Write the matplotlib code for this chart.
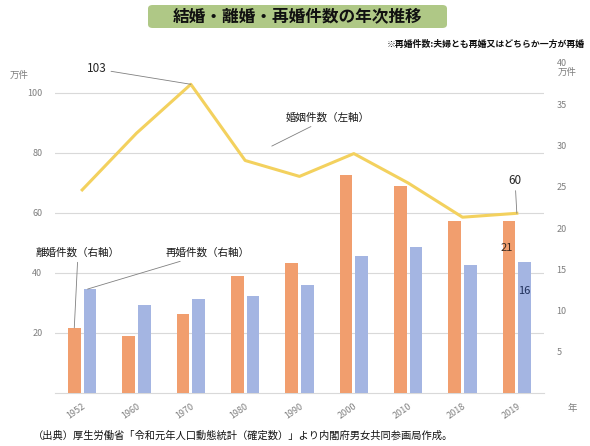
"""
    結婚・離婚・再婚件数の年次推移
"""

import matplotlib.pyplot as plt
from matplotlib.patches import FancyBboxPatch

plt.rcParams['font.family'] = ['Noto Sans CJK JP', 'DejaVu Sans']

# Data (万件)
years = ['1952', '1960', '1970', '1980', '1990', '2000', '2010', '2018', '2019']
marriages = [67.7, 86.6, 102.9, 77.5, 72.2, 79.8, 70.0, 58.6, 59.9]
divorces = [7.9, 6.9, 9.6, 14.2, 15.8, 26.4, 25.1, 20.8, 20.8]
remarriages = [12.6, 10.7, 11.4, 11.7, 13.1, 16.6, 17.7, 15.5, 15.9]

left_ticks = [20, 40, 60, 80, 100]
right_ticks = [5, 10, 15, 20, 25, 30, 35, 40]

W, H = 590, 446
fig = plt.figure(figsize=(W / 100, H / 100), dpi=100)

# base axes: left scale + gridlines
ax = fig.add_axes([55 / W, 53 / H, 489 / W, 330 / H])
ax2 = ax.twinx()   # bars (right scale)
ax3 = ax.twinx()   # line (left scale), drawn on top

x = list(range(len(years)))
ax.set_xlim(-0.5, len(years) - 0.5)
ax.set_ylim(0, 110)
ax2.set_ylim(0, 40)
ax3.set_ylim(0, 110)

gray = '#7f7f7f'
ax.set_yticks(left_ticks)
ax.yaxis.grid(True, color='#d9d9d9', lw=0.8)
ax.set_axisbelow(True)
ax.tick_params(axis='y', length=0, labelsize=6.5, labelcolor=gray, pad=9)
ax.set_xticks(x)
ax.set_xticklabels(years, rotation=35, ha='right', rotation_mode='anchor')
ax.tick_params(axis='x', length=0, labelsize=6.5, labelcolor=gray, pad=6)

ax2.set_yticks(right_ticks)
ax2.tick_params(axis='y', length=0, labelsize=6.5, labelcolor=gray, pad=9)
ax3.set_yticks([])

for a in (ax, ax2, ax3):
    for side in ('top', 'left', 'right', 'bottom'):
        a.spines[side].set_visible(False)
ax.spines['bottom'].set_visible(True)
ax.spines['bottom'].set_color('#d9d9d9')

# bars
bw = 0.23
off = 0.145
ax2.bar([i - off for i in x], divorces, bw, color='#F19E6E')
ax2.bar([i + off for i in x], remarriages, bw, color='#A4B5E2')

# line
ax3.plot(x, marriages, color='#F3D15E', lw=2.2, solid_joinstyle='round')

# annotations
lead = dict(arrowstyle='-', color='#808080', lw=0.6, shrinkA=1, shrinkB=0)
ax3.annotate(f'{max(marriages):.0f}', xy=(2, marriages[2]), xytext=(97, 377),
             textcoords='figure pixels', ha='center', va='center',
             fontsize=8.5, color='#262626', arrowprops=lead)
ax3.annotate(f'{marriages[-1]:.0f}', xy=(8, marriages[-1]), xytext=(515, 266),
             textcoords='figure pixels', ha='center', va='center',
             fontsize=8.5, color='#262626', arrowprops=lead)
ax3.annotate('婚姻件数（左軸）', xy=(3.49, 82.3), xytext=(286, 328),
             textcoords='figure pixels', ha='left', va='center',
             fontsize=7.6, color='#1a1a1a', arrowprops=lead)
ax2.annotate('離婚件数（右軸）', xy=(-off, divorces[0]), xytext=(78, 193),
             textcoords='figure pixels', ha='center', va='center',
             fontsize=7.6, color='#1a1a1a', arrowprops=lead)
ax2.annotate('再婚件数（右軸）', xy=(0.1, remarriages[0]), xytext=(166, 193),
             textcoords='figure pixels', ha='left', va='center',
             fontsize=7.6, color='#1a1a1a', arrowprops=lead)
ax2.text(8 - off - 0.05, 17.6, f'{divorces[-1]:.0f}', ha='center', va='center',
         fontsize=8, color='#3a2a20')
ax2.text(8 + off, 12.4, f'{remarriages[-1]:.0f}', ha='center', va='center',
         fontsize=8, color='#1f2f5a')

# units
fig.text(10 / W, 1 - 75 / H, '万件', fontsize=6.8, color=gray, va='center')
fig.text(558 / W, 1 - 72 / H, '万件', fontsize=6.8, color=gray, va='center')
fig.text(568 / W, 1 - 409 / H, '年', fontsize=6.8, color=gray, va='center')

# title box
box = FancyBboxPatch((148 / W, 1 - 28 / H), 299 / W, 23 / H,
                     boxstyle='round,pad=0,rounding_size=0.008',
                     transform=fig.transFigure, fc='#AFC886', ec='none')
fig.patches.append(box)
fig.text(298 / W, 1 - 16.5 / H, '結婚・離婚・再婚件数の年次推移', ha='center',
         va='center', fontsize=12, fontweight='bold', color='#111111')
fig.text(585 / W, 1 - 44 / H, '※再婚件数:夫婦とも再婚又はどちらか一方が再婚',
         ha='right', va='center', fontsize=6.4, fontweight='bold', color='#111111')

# source
fig.text(33 / W, 1 - 436 / H,
         '（出典）厚生労働省「令和元年人口動態統計（確定数）」より内閣府男女共同参画局作成。',
         ha='left', va='center', fontsize=7.4, color='#111111')

fig.savefig('out.png', dpi=100)
